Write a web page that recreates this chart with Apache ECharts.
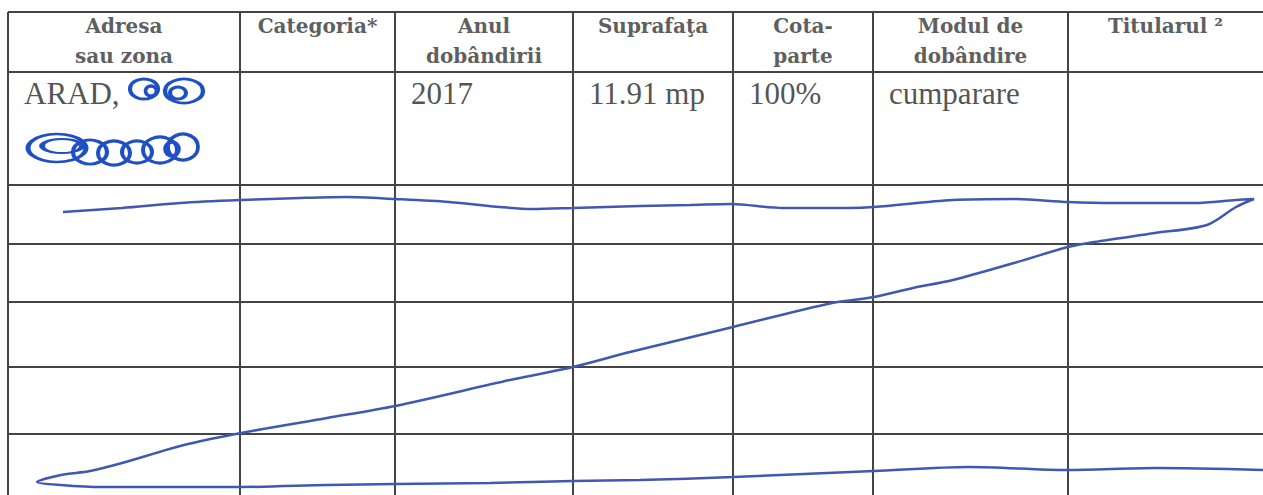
<!DOCTYPE html>
<html>
<head>
<meta charset="utf-8">
<script src="https://cdn.jsdelivr.net/npm/echarts@6/dist/echarts.min.js"></script>
<style>
html,body{margin:0;padding:0;background:#fff;}
#chart{width:1263px;height:495px;}
</style>
</head>
<body>
<div id="chart"></div>
<script>
// ---- data ----
var headerLines = [
  ['Adresa', 'sau zona'],
  ['Categoria*'],
  ['Anul', 'dobândirii'],
  ['Suprafaţa'],
  ['Cota-', 'parte'],
  ['Modul de', 'dobândire'],
  ['Titularul ²']
];
var rowValues = ['ARAD,', '', '2017', '11.91 mp', '100%', 'cumparare', ''];

// table rule positions (page units)
var colEdges = [8, 240, 395, 573, 733, 873, 1068];
var rowEdges = [12, 72, 185, 244, 302, 367, 434];

// hand-drawn cancel stroke (page units)
var penX = [63, 122, 180, 241, 300, 347, 395, 449, 500, 531, 573, 640, 690, 731, 783, 848, 874, 953, 1014, 1068, 1114, 1195, 1236, 1254,
            1236, 1207, 1155, 1094, 1068, 1014, 953, 913, 874, 832, 733, 630, 573, 510, 395, 327, 241, 184, 122, 90, 61, 37,
            61, 102, 163, 241, 327, 395, 490, 573, 640, 733, 874, 969, 1068, 1155, 1263];
var penY = [212, 208, 203, 200, 198, 197, 199, 202, 207, 209, 208, 206, 205, 204, 208, 208, 207, 200, 199, 202, 203, 203, 200, 199,
            207, 225, 233, 242, 247, 263, 280, 288, 297, 303, 327, 352, 367, 380, 406, 418, 433, 445, 463, 471, 475, 482,
            485, 487, 487, 487, 485, 484, 483, 481, 480, 477, 471, 467, 470, 468, 470];

// redaction scribble loops: [x, y, w, h]
var scribbles = [
  [144, 89, 28, 20], [151, 91, 11, 10], [184, 91, 38, 24], [178, 93, 16, 12],
  [57, 148, 58, 28], [62, 146, 40, 14], [90, 152, 34, 24], [114, 153, 32, 24], [137, 152, 30, 22], [160, 150, 34, 26], [183, 147, 30, 26], [172, 149, 14, 14]
];

// ---- layout ----
var W = 1263, H = 495;
var headerY = [26, 56];
var rowY = 93;

var colRight = colEdges.slice(1).concat([W]);
var headerData = [];
headerLines.forEach(function (lines, i) {
  var cx = (colEdges[i] + colRight[i]) / 2;
  lines.forEach(function (t, j) { headerData.push([cx, headerY[j], t]); });
});
var rowData = [];
rowValues.forEach(function (t, i) { if (t) rowData.push([colEdges[i], rowY, t]); });

var ruleLines = [];
colEdges.forEach(function (x) { ruleLines.push([{ coord: [x, rowEdges[0]] }, { coord: [x, H] }]); });
rowEdges.forEach(function (y) { ruleLines.push([{ coord: [colEdges[0], y] }, { coord: [W, y] }]); });

var penData = penX.map(function (x, i) { return [x, penY[i]]; });

var chart = echarts.init(document.getElementById('chart'), null, { renderer: 'svg' });
chart.setOption({
  animation: false,
  backgroundColor: '#ffffff',
  grid: { left: 0, right: 0, top: 0, bottom: 0 },
  xAxis: { type: 'value', min: 0, max: W, show: false },
  yAxis: { type: 'value', min: 0, max: H, inverse: true, show: false },
  series: [
    {
      type: 'scatter', silent: true, z: 3,
      symbolSize: 0,
      data: headerData,
      label: {
        show: true, position: 'inside',
        formatter: function (p) { return p.data[2]; },
        fontFamily: 'DejaVu Serif', fontWeight: 'bold', fontSize: 20, color: '#333333'
      },
      markLine: {
        silent: true, symbol: ['none', 'none'], label: { show: false },
        lineStyle: { color: '#444444', width: 2, type: 'solid' },
        data: ruleLines
      }
    },
    {
      type: 'scatter', silent: true, z: 3,
      symbolSize: 0,
      data: rowData,
      label: {
        show: true, position: 'right', distance: 16,
        formatter: function (p) { return p.data[2]; },
        fontFamily: 'Liberation Serif', fontSize: 31, color: '#262626'
      }
    },
    {
      type: 'scatter', silent: true, z: 4,
      symbol: 'circle',
      symbolSize: function (v) { return [v[2], v[3]]; },
      data: scribbles,
      itemStyle: { color: 'rgba(255,255,255,0)', borderColor: '#1f4fc4', borderWidth: 3.5, opacity: 1 }
    },
    {
      type: 'line', silent: true, z: 5,
      data: penData,
      showSymbol: false, symbol: 'none',
      smooth: 0.3,
      lineStyle: { color: '#4058b2', width: 2.5 }
    }
  ]
});
</script>
</body>
</html>
